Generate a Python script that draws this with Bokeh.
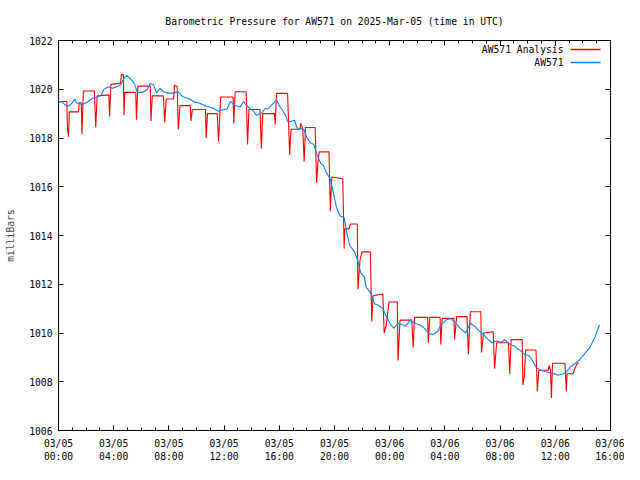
from bokeh.plotting import figure
from bokeh.models import (LinearAxis, FixedTicker, Range1d, Label, Arrow,
                          CustomLabelingPolicy)
from bokeh.embed import file_html
from bokeh.resources import INLINE

FONT = "DejaVu Sans Mono"
FS = "9.7px"

title_text = "Barometric Pressure for AW571 on 2025-Mar-05 (time in UTC)"
y_label = "milliBars"
legend_labels = ["AW571 Analysis", "AW571"]
series_colors = ["#ff0000", "#0a80ff"]

# x axis: hours since 2025-03-05 00:00 UTC
x_tick_hours = [0, 4, 8, 12, 16, 20, 24, 28, 32, 36, 40]
x_tick_labels = ["03/05\n00:00", "03/05\n04:00", "03/05\n08:00", "03/05\n12:00",
                 "03/05\n16:00", "03/05\n20:00", "03/06\n00:00", "03/06\n04:00",
                 "03/06\n08:00", "03/06\n12:00", "03/06\n16:00"]
x_minor_hours = list(range(0, 41))
y_ticks = [1006, 1008, 1010, 1012, 1014, 1016, 1018, 1020, 1022]

# AW571 Analysis (red)
analysis_hours = [0.0, 0.6, 0.65, 0.73, 0.78, 1.45, 1.5, 1.65, 1.7, 1.8, 2.6, 2.7, 2.8, 3.65, 3.7, 3.8,
                  4.5, 4.55, 4.7, 4.75, 4.8, 5.6, 5.65, 5.75, 6.65, 6.7, 6.8, 7.6, 7.7, 7.8, 8.35, 8.4,
                  8.6, 8.68, 8.8, 9.55, 9.6, 9.7, 10.65, 10.7, 10.8, 11.5, 11.6, 11.75, 12.65, 12.7,
                  12.8, 13.6, 13.7, 13.8, 14.6, 14.7, 14.8, 15.65, 15.7, 15.8, 16.6, 16.75, 16.85,
                  17.5, 17.55, 17.7, 17.8, 17.9, 18.6, 18.7, 18.8, 18.9, 19.6, 19.7, 19.8, 20.6,
                  20.7, 20.75, 21.05, 21.15, 21.65, 21.7, 21.85, 22.0, 22.6, 22.7, 22.8, 23.5, 23.6,
                  23.75, 23.95, 24.55, 24.6, 24.75, 25.6, 25.7, 25.8, 26.75, 26.8, 26.9, 27.65, 27.7,
                  27.8, 28.65, 28.7, 28.85, 29.6, 29.7, 29.85, 30.6, 30.65, 30.8, 31.5, 31.6, 31.75,
                  32.6, 32.7, 32.8, 33.6, 33.65, 33.75, 33.85, 34.6, 34.7, 34.8, 35.5, 35.55, 35.65,
                  35.72, 35.8, 36.7, 36.8, 36.85, 37.3, 37.4, 37.6, 37.7]
analysis_mb = [1019.5, 1019.5, 1018.4, 1018.05, 1019.07, 1019.07, 1019.44, 1019.44, 1018.15, 1019.93,
               1019.93, 1018.44, 1019.73, 1019.77, 1018.88, 1020.2, 1020.25, 1020.6, 1020.6, 1018.93,
               1019.87, 1019.87, 1018.75, 1020.13, 1020.13, 1018.7, 1019.73, 1019.73, 1018.64, 1019.6,
               1019.6, 1020.17, 1020.1, 1018.35, 1019.33, 1019.33, 1018.7, 1019.17, 1019.17, 1018.0,
               1019.0, 1019.0, 1017.87, 1019.68, 1019.68, 1018.6, 1019.9, 1019.9, 1017.73, 1019.17,
               1019.17, 1017.57, 1019.0, 1019.0, 1018.55, 1019.83, 1019.83, 1017.3, 1018.36,
               1018.36, 1018.6, 1018.4, 1017.04, 1018.43, 1018.43, 1016.16, 1017.0, 1017.43,
               1017.43, 1015.0, 1016.4, 1016.33, 1013.47, 1014.27, 1014.27, 1014.47, 1014.47,
               1011.8, 1013.0, 1013.33, 1013.33, 1010.47, 1011.53, 1011.6, 1010.0, 1010.33,
               1011.27, 1011.27, 1008.87, 1010.53, 1010.53, 1009.4, 1010.64, 1010.64, 1009.6,
               1010.64, 1010.64, 1009.53, 1010.6, 1010.6, 1009.73, 1010.67, 1010.67, 1009.13,
               1010.87, 1010.87, 1009.2, 1010.0, 1010.05, 1008.53, 1009.6, 1009.6, 1008.33,
               1009.73, 1009.73, 1007.87, 1008.2, 1009.3, 1009.3, 1007.6, 1008.47, 1008.47,
               1008.67, 1008.47, 1007.33, 1008.76, 1008.76, 1007.6, 1008.33, 1008.33, 1008.53,
               1008.76, 1008.76]

# AW571 observations (blue)
obs_hours = [0.0, 0.2, 0.5, 0.73, 1.0, 1.2, 1.3, 1.7, 2.0, 2.15, 2.5, 2.9, 3.1, 3.3, 3.6, 3.9, 4.2,
             4.5, 4.75, 4.95, 5.2, 5.5, 5.7, 6.06, 6.4, 6.65, 6.9, 7.1, 7.36, 7.6, 7.95, 8.3, 8.66,
             9.0, 9.5, 9.85, 10.2, 10.7, 11.15, 11.6, 12.0, 12.22, 12.46, 12.8, 13.17, 13.4, 13.64,
             13.9, 14.1, 14.35, 14.6, 14.8, 14.95, 15.2, 15.4, 15.65, 15.8, 16.0, 16.25, 16.5,
             16.6, 16.8, 17.1, 17.3, 17.55, 17.8, 18.0, 18.26, 18.5, 18.73, 19.0, 19.2, 19.44,
             19.7, 19.9, 20.15, 20.4, 20.7, 20.86, 21.1, 21.45, 21.7, 21.9, 22.16, 22.3, 22.6,
             22.9, 23.2, 23.5, 23.7, 24.05, 24.3, 24.6, 25.0, 25.12, 25.5, 25.8, 26.2, 26.5, 26.8,
             27.1, 27.5, 27.7, 28.1, 28.4, 28.8, 29.1, 29.5, 29.85, 30.2, 30.45, 30.8, 31.0, 31.4,
             31.75, 32.1, 32.35, 32.7, 33.05, 33.3, 33.5, 33.75, 34.1, 34.35, 34.6, 34.95, 35.4,
             35.9, 36.2, 36.6, 36.8, 37.07, 37.4, 37.7, 37.9, 38.1, 38.5, 38.85, 39.2]
obs_mb = [1019.45, 1019.5, 1019.35, 1019.3, 1019.45, 1019.6, 1019.45, 1019.37, 1019.45, 1019.5,
          1019.64, 1019.7, 1019.77, 1020.0, 1020.1, 1020.04, 1020.1, 1020.17, 1020.44, 1020.57,
          1020.44, 1020.24, 1019.88, 1019.87, 1019.97, 1020.24, 1020.17, 1019.84, 1020.04, 1019.9,
          1019.84, 1019.84, 1019.9, 1019.7, 1019.6, 1019.47, 1019.44, 1019.3, 1019.24, 1019.1,
          1019.17, 1019.2, 1019.5, 1019.33, 1019.27, 1019.49, 1019.33, 1019.2, 1019.13, 1018.93,
          1019.0, 1019.07, 1019.2, 1019.2, 1019.33, 1019.47, 1019.57, 1019.33, 1019.13, 1018.87,
          1018.67, 1018.67, 1018.73, 1018.4, 1018.4, 1018.33, 1018.0, 1017.8, 1017.73, 1017.33,
          1016.95, 1016.87, 1016.55, 1016.3, 1015.8, 1015.13, 1014.8, 1014.73, 1014.2, 1013.6,
          1013.33, 1012.93, 1012.47, 1012.3, 1011.87, 1011.67, 1011.2, 1011.13, 1011.0, 1010.75,
          1010.35, 1010.2, 1010.4, 1010.33, 1010.27, 1010.53, 1010.4, 1010.33, 1010.2, 1010.0,
          1009.93, 1010.07, 1010.33, 1010.53, 1010.6, 1010.4, 1010.2, 1010.0, 1010.4, 1010.25,
          1010.1, 1009.93, 1009.8, 1009.6, 1009.67, 1009.62, 1009.73, 1009.53, 1009.47, 1009.33,
          1009.27, 1009.13, 1009.07, 1008.87, 1008.6, 1008.47, 1008.4, 1008.33, 1008.27, 1008.33,
          1008.4, 1008.6, 1008.73, 1008.87, 1009.0, 1009.13, 1009.4, 1009.8, 1010.33]

p = figure(width=624, height=464, output_backend="svg", toolbar_location=None,
           x_range=Range1d(x_tick_hours[0], x_tick_hours[-1]),
           y_range=Range1d(y_ticks[0], y_ticks[-1]),
           min_border_left=58, min_border_right=14, min_border_top=40, min_border_bottom=32,
           title=title_text)
p.grid.visible = False
p.outline_line_color = "black"
p.outline_line_width = 1
p.background_fill_color = "white"
p.border_fill_color = "white"

p.title.text_font = FONT
p.title.text_font_size = FS
p.title.text_font_style = "normal"
p.title.align = "center"
p.title.text_color = "black"
p.title.standoff = 20

x_ticker = FixedTicker(ticks=x_tick_hours, minor_ticks=x_minor_hours)
y_ticker = FixedTicker(ticks=y_ticks, minor_ticks=[])

hide_labels = CustomLabelingPolicy(code="""
for (const i of indices) { indices.unset(i) }
return indices
""")


def style_axis(ax, ticker, show):
    ax.ticker = ticker
    ax.axis_line_color = "black"
    ax.major_tick_line_color = "black"
    ax.minor_tick_line_color = "black"
    ax.major_tick_in = 5
    ax.major_tick_out = 0
    ax.minor_tick_in = 3
    ax.minor_tick_out = 0
    ax.major_label_text_font = FONT
    ax.major_label_text_color = "black"
    if show:
        ax.major_label_text_font_size = FS
    else:
        ax.major_label_text_font_size = "1px"
        ax.major_label_standoff = 0
        ax.major_label_policy = hide_labels


style_axis(p.xaxis[0], x_ticker, True)
p.xaxis[0].major_label_overrides = dict(zip(x_tick_hours, x_tick_labels))
p.xaxis[0].major_label_standoff = 7
p.xaxis[0].major_label_text_line_height = 1.2

style_axis(p.yaxis[0], y_ticker, True)
p.yaxis[0].major_label_standoff = 6
p.yaxis[0].axis_label = y_label
p.yaxis[0].axis_label_text_font = FONT
p.yaxis[0].axis_label_text_font_size = FS
p.yaxis[0].axis_label_text_font_style = "normal"
p.yaxis[0].axis_label_standoff = 10

top_axis = LinearAxis()
style_axis(top_axis, x_ticker, False)
p.add_layout(top_axis, "above")
right_axis = LinearAxis()
style_axis(right_axis, y_ticker, False)
p.add_layout(right_axis, "right")

p.line(analysis_hours, analysis_mb, line_color=series_colors[0], line_width=1.1)
p.line(obs_hours, obs_mb, line_color=series_colors[1], line_width=1.1)

# key (gnuplot style: text, then line sample), positioned in screen px from the frame corner
key_rows_y = [381, 368]
for txt, col, yy in zip(legend_labels, series_colors, key_rows_y):
    p.add_layout(Label(x=505, y=yy, x_units="screen", y_units="screen", text=txt,
                       text_align="right", text_baseline="middle", text_font=FONT,
                       text_font_size=FS, text_color="black"))
    arrow = Arrow(end=None, x_start=512, y_start=yy, x_end=542, y_end=yy,
                  start_units="screen", end_units="screen")
    arrow.line_color = col
    arrow.line_width = 1.6
    arrow.line_alpha = 1.0
    p.add_layout(arrow)

open("out.html", "w").write(file_html(p, INLINE))
